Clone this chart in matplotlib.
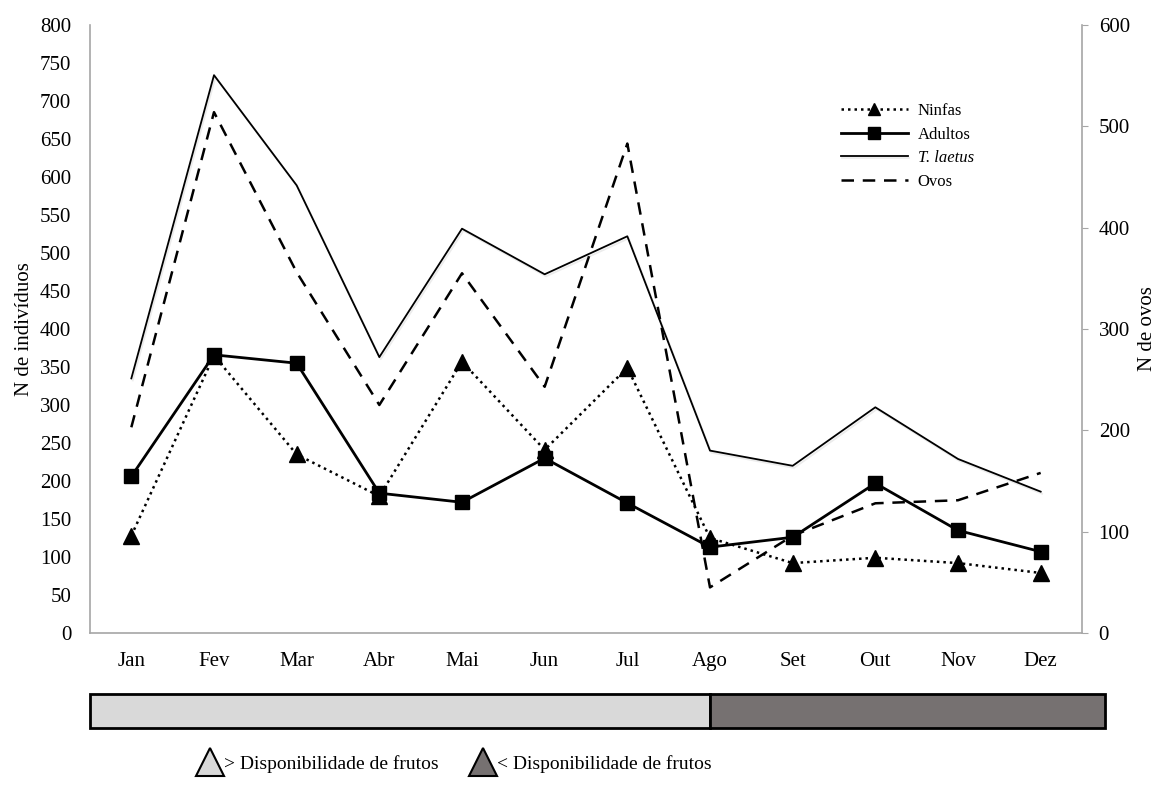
import matplotlib
matplotlib.use("Agg")
from matplotlib import pyplot as plt
from matplotlib.lines import Line2D
from matplotlib.patches import Rectangle
import matplotlib.patheffects as pe

plt.rcParams['font.family'] = ['Liberation Serif', 'DejaVu Serif']

# data
meses = ["Jan", "Fev", "Mar", "Abr", "Mai", "Jun", "Jul", "Ago", "Set", "Out", "Nov", "Dez"]
t_laetus = [335, 734, 589, 363, 532, 472, 522, 240, 220, 297, 229, 186]
adultos = [206, 366, 355, 184, 172, 230, 171, 113, 126, 197, 135, 107]
ninfas = [128, 365, 235, 180, 357, 241, 349, 125, 92, 99, 92, 79]
ovos = [203, 514, 356, 225, 355, 243, 483, 45, 96, 128, 131, 158]

# fruit availability periods (month index where it switches)
periodo_alto = (-0.5, 7)      # > disponibilidade
periodo_baixo = (7, 11.78)    # < disponibilidade

W, H = 1163, 802
fig = plt.figure(figsize=(W / 100, H / 100), dpi=100)
ax = fig.add_axes([90 / W, 1 - 633 / H, (1082 - 90) / W, (633 - 25) / H])
ax2 = ax.twinx()

x = list(range(len(meses)))
gray = "#a6a6a6"
shadow = [pe.SimpleLineShadow(offset=(1, -1.5), shadow_color="gray", alpha=0.15), pe.Normal()]

ax.plot(x, t_laetus, color="black", lw=1.3, label="T. laetus", zorder=3, path_effects=shadow)
ax.plot(x, adultos, color="black", lw=2.0, marker="s", markersize=10, label="Adultos", zorder=4)
ax.plot(x, ninfas, color="black", lw=1.8, ls=(0, (1, 1.6)), marker="^", markersize=11,
        label="Ninfas", zorder=5)
ax2.plot(x, ovos, color="black", lw=1.8, ls=(0, (5, 3.5)), label="Ovos")

ax.set_xlim(-0.5, 11.5)
ax.set_ylim(0, 800)
ax.set_yticks(range(0, 801, 50))
ax.set_xticks(x)
ax.set_xticklabels(meses)
ax2.set_ylim(0, 600)
ax2.set_yticks(range(0, 601, 100))

ax.set_zorder(ax2.get_zorder() + 1)
ax.patch.set_visible(False)

for a in (ax, ax2):
    a.spines["top"].set_visible(False)
    for s in ("left", "right", "bottom"):
        a.spines[s].set_color(gray)
        a.spines[s].set_linewidth(1.2)
ax.spines["right"].set_visible(False)
ax2.spines["left"].set_visible(False)
ax2.spines["bottom"].set_visible(False)

ax.tick_params(axis="y", length=0, labelsize=15, pad=13.5)
ax.tick_params(axis="x", length=0, labelsize=15, pad=14)
ax2.tick_params(axis="y", length=4, color=gray, labelsize=15, pad=8)

ax.set_ylabel("N de indivíduos", fontsize=15, labelpad=4)
ax2.set_ylabel("N de ovos", fontsize=15, labelpad=6)

handles = [ax.lines[2], ax.lines[1], ax.lines[0], ax2.lines[0]]
leg = fig.legend(handles, [h.get_label() for h in handles], loc="upper left",
                 bbox_to_anchor=(826 / W, 1 - 88 / H), frameon=False, fontsize=12,
                 handlelength=4.0, labelspacing=0.45, handletextpad=0.6, markerscale=0.8)
leg.get_texts()[2].set_fontstyle("italic")

# fruit availability bar
bar = fig.add_axes([90 / W, 1 - 728 / H, (1105 - 90) / W, 34 / H])
bar.set_xlim(-0.5, 11.78)
bar.set_ylim(0, 1)
bar.axis("off")
bar.add_patch(Rectangle((periodo_alto[0], 0), periodo_alto[1] - periodo_alto[0], 1,
                        facecolor="#d9d9d9", edgecolor="black", lw=2, clip_on=False))
bar.add_patch(Rectangle((periodo_baixo[0], 0), periodo_baixo[1] - periodo_baixo[0], 1,
                        facecolor="#767171", edgecolor="black", lw=2, clip_on=False))

# bottom legend
fig.add_artist(Line2D([210 / W], [1 - 762 / H], marker="^", markersize=20,
                      markerfacecolor="#d9d9d9", markeredgecolor="black", markeredgewidth=1.5,
                      transform=fig.transFigure))
fig.text(224 / W, 1 - 764 / H, "> Disponibilidade de frutos", fontsize=14, va="center")
fig.add_artist(Line2D([483 / W], [1 - 762 / H], marker="^", markersize=20,
                      markerfacecolor="#767171", markeredgecolor="black", markeredgewidth=1.5,
                      transform=fig.transFigure))
fig.text(497 / W, 1 - 764 / H, "< Disponibilidade de frutos", fontsize=14, va="center")

fig.savefig("out.png", dpi=100)
